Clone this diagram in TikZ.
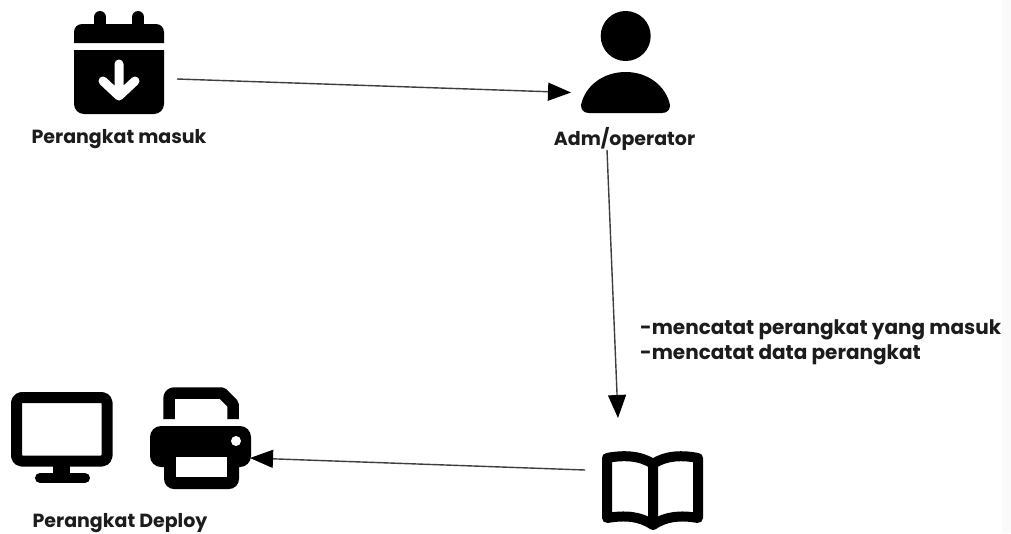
\documentclass[tikz,border=0pt]{standalone}
\usepackage{fontspec}
\setmainfont{Poppins}
\usetikzlibrary{arrows.meta}
\definecolor{ink}{HTML}{1C1C1C}
\tikzset{
  solid icon/.style={fill=black,draw=none},
  line icon/.style={draw=black,line width=11pt,line join=round,line cap=round},
  flow/.style={draw=ink!85,line width=1.4pt,-{Triangle[length=23pt,width=18pt,color=black]}},
  caption/.style={font=\fontsize{19}{23}\selectfont\bfseries,text=ink,inner sep=0pt,anchor=center},
  note/.style={font=\fontsize{20}{25}\selectfont\bfseries,text=ink,inner sep=0pt,anchor=west}
}
\begin{document}
\begin{tikzpicture}[x=1pt,y=-1pt]
\useasboundingbox (0,0) rectangle (1011,533);
\fill[white] (0,0) rectangle (1011,533);
\fill[black!2] (1002,0) rectangle (1011,533);
% calendar
\draw[black,line width=12pt,line cap=round] (100,17) -- (100,26) (138,17) -- (138,26);
\fill[solid icon] (74,43) -- (74,32) arc[start angle=180,end angle=270,radius=8] -- (156,24) arc[start angle=270,end angle=360,radius=8] -- (164,43) -- cycle;
\fill[solid icon] (74,50) -- (164,50) -- (164,104) arc[start angle=0,end angle=90,radius=10] -- (84,114) arc[start angle=90,end angle=180,radius=10] -- cycle;
\draw[white,line width=9pt,line cap=round,line join=round] (119,64) -- (119,96) (103,81) -- (119,96) -- (135,81);
% user
\fill[solid icon] (625.7,36) circle[radius=25];
\fill[solid icon] (589,113) .. controls (583,113) and (581,109) .. (581,105) .. controls (585,86) and (603,72) .. (625.7,72) .. controls (648,72) and (666,86) .. (670,105) .. controls (670,109) and (668,113) .. (662,113) -- cycle;
% monitor
\draw[line icon,rounded corners=5pt] (16.5,397.5) rectangle (107,461);
\fill[solid icon] (53,461) rectangle (70,478);
\draw[black,line width=10pt,line cap=round] (40,478) -- (85,478);
% printer
\draw[black,line width=11.5pt,line join=round] (169,419) -- (169,399) .. controls (169,395) and (171,393) .. (175,393) -- (222,393) -- (233,404) -- (233,419);
\fill[solid icon,rounded corners=11pt] (150,426) rectangle (251,467);
\fill[solid icon,rounded corners=10pt] (164,445) rectangle (239,489);
\fill[white] (176,457) rectangle (227,477);
\fill[white] (236,441) circle[radius=5];
% book
\draw[black,line width=10pt,line join=round,line cap=round] (653,464) .. controls (640,455) and (622,455) .. (607,458) -- (607,518) .. controls (625,515) and (640,516) .. (653,525) .. controls (666,516) and (681,515) .. (698,518) -- (698,458) .. controls (683,455) and (666,455) .. (653,464) -- (653,525);
% labels
\node[caption] (inlabel) at (119,139) {Perangkat masuk};
\node[caption] (admlabel) at (624.5,139) {Adm/operator};
\node[caption] (deploylabel) at (120,523) {Perangkat Deploy};
\node[note] (note1) at (640,330) {-mencatat perangkat yang masuk};
\node[note] (note2) at (640,355) {-mencatat data perangkat};
% connector ends
\coordinate (calport) at (177,79);
\coordinate (userport) at (571,92.5);
\coordinate (admport) at (607,150);
\coordinate (bookin) at (618,418);
\coordinate (bookout) at (585,470);
\coordinate (printerport) at (250,458);
\draw[flow] (calport) -- (userport);
\draw[flow] (admport) -- (bookin);
\draw[flow] (bookout) -- (printerport);
\end{tikzpicture}
\end{document}
